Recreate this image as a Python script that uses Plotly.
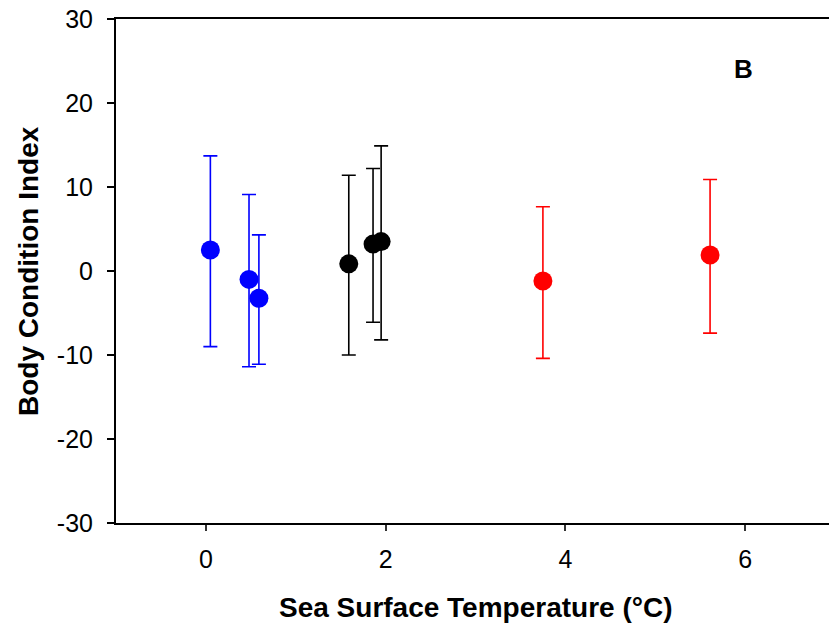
import plotly.graph_objects as go

# Data
sst_cold = [0.05, 0.48, 0.59]
bci_cold = [2.5, -1.0, -3.25]
err_up_cold = [11.2, 10.1, 7.55]
err_dn_cold = [11.5, 10.4, 7.85]

sst_mid = [1.59, 1.86, 1.95]
bci_mid = [0.85, 3.2, 3.5]
err_up_mid = [10.55, 9.0, 11.4]
err_dn_mid = [10.85, 9.3, 11.7]

sst_warm = [3.75, 5.61]
bci_warm = [-1.2, 1.9]
err_up_warm = [8.85, 9.0]
err_dn_warm = [9.2, 9.3]

x_ticks = [0, 2, 4, 6]
y_ticks = [-30, -20, -10, 0, 10, 20, 30]
y_tick_labels = ["-30", "-20", "-10", "0", "10", "20", "30"]

FONT = "Liberation Sans, Arial, sans-serif"

fig = go.Figure()

def add_group(xs, ys, up, dn, color):
    fig.add_trace(go.Scatter(
        x=xs, y=ys, mode="markers",
        marker=dict(color=color, size=19, line=dict(width=0)),
        error_y=dict(type="data", symmetric=False, array=up, arrayminus=dn,
                     color=color, thickness=1.6, width=7),
        showlegend=False,
        cliponaxis=False,
    ))

add_group(sst_cold, bci_cold, err_up_cold, err_dn_cold, "#0000ff")
add_group(sst_mid, bci_mid, err_up_mid, err_dn_mid, "#000000")
add_group(sst_warm, bci_warm, err_up_warm, err_dn_warm, "#ff0000")

fig.add_annotation(x=5.98, y=24.1, text="<b>B</b>", showarrow=False,
                   font=dict(family=FONT, size=26, color="black"),
                   xref="x", yref="y")

PW = 719  # plot-area width in px
# axis titles
fig.add_annotation(x=(475 - 116) / PW, y=-(607 - 523) / 504, xref="paper", yref="paper",
                   text="<b>Sea Surface Temperature (°C)</b>", showarrow=False,
                   font=dict(family=FONT, size=28, color="black"),
                   xanchor="center", yanchor="middle")
fig.add_annotation(x=-(116 - 28) / PW, y=0.5, xref="paper", yref="paper",
                   text="<b>Body Condition Index</b>", showarrow=False, textangle=-90,
                   font=dict(family=FONT, size=28, color="black"),
                   xanchor="center", yanchor="middle")

fig.update_layout(
    width=116 + PW, height=630,
    margin=dict(l=116, r=0, t=19, b=107),
    paper_bgcolor="white", plot_bgcolor="white",
    font=dict(family=FONT, size=25, color="black"),
    xaxis=dict(
        range=[-1, 7], tickvals=x_ticks, ticks="outside", ticklen=6,
        tickwidth=1.5, tickcolor="#333333",
        showline=True, linecolor="black", linewidth=2, mirror=True,
        showgrid=False, zeroline=False, automargin=False,
        tickfont=dict(size=25), ticklabelstandoff=7,
    ),
    yaxis=dict(
        range=[-30, 30], tickvals=y_ticks, ticktext=y_tick_labels,
        ticks="outside", ticklen=7,
        tickwidth=1.5, tickcolor="black",
        showline=True, linecolor="black", linewidth=2, mirror=False,
        showgrid=False, zeroline=False, automargin=False,
        tickfont=dict(size=25), ticklabelstandoff=9,
    ),
)

fig.write_html("out.html", config={"displayModeBar": False},
               post_script="document.body.style.margin='0';document.body.style.overflow='hidden';")
